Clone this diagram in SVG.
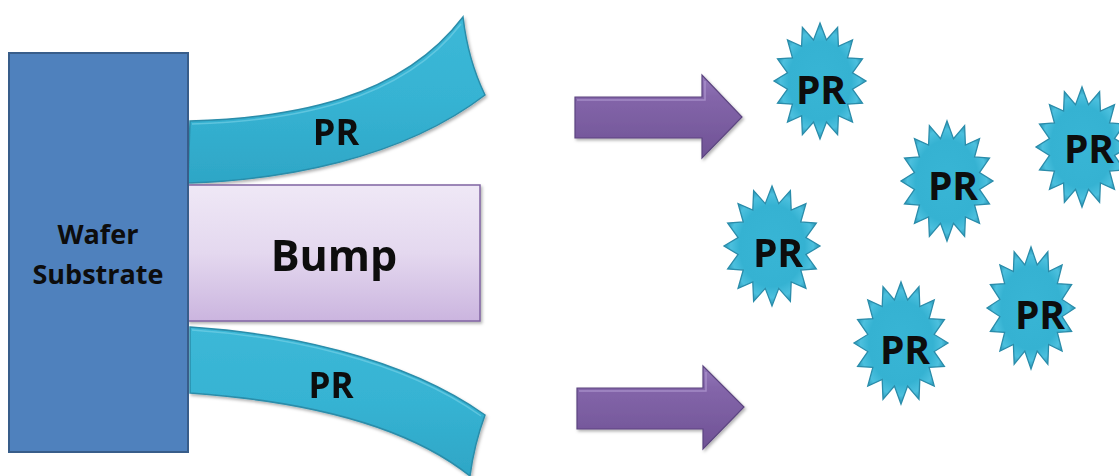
<svg xmlns="http://www.w3.org/2000/svg" xmlns:xlink="http://www.w3.org/1999/xlink" width="1119" height="476" viewBox="0 0 1119 476">
  <style>
    .lbl { font-family: "Open Sans", "Liberation Sans", sans-serif; font-weight: 700; fill: #0d0d0d; text-anchor: middle; }
    .wafer { fill: #4f81bd; stroke: #385d8a; stroke-width: 2; }
    .bump { fill: url(#bumpFill); stroke: #8064a2; stroke-width: 1.5; }
    .band { fill: url(#bandFill); stroke: #2a8daa; stroke-width: 1.5; }
    .band-hi { fill: none; stroke: #7fd6ea; stroke-width: 1.5; opacity: 0.55; }
    .arrow { fill: url(#arrowFill); stroke: #5c4580; stroke-width: 1.2; stroke-linejoin: miter; }
    .arrow-hi { fill: none; stroke: #b39bd3; stroke-width: 1.5; opacity: 0.7; }
    .star { fill: url(#starFill); stroke: #2a8caa; stroke-width: 1.3; vector-effect: non-scaling-stroke; stroke-linejoin: miter; }
  </style>
  <defs>
    <linearGradient id="bumpFill" x1="0" y1="0" x2="0" y2="1">
      <stop offset="0" stop-color="#efe8f6"/>
      <stop offset="0.5" stop-color="#e4d8ef"/>
      <stop offset="1" stop-color="#cbb5df"/>
    </linearGradient>
    <linearGradient id="bandFill" x1="0" y1="0" x2="0" y2="1">
      <stop offset="0" stop-color="#3cb8d7"/>
      <stop offset="0.5" stop-color="#36b3d3"/>
      <stop offset="1" stop-color="#2ea6c6"/>
    </linearGradient>
    <linearGradient id="arrowFill" x1="0" y1="0" x2="0" y2="1">
      <stop offset="0" stop-color="#9479bb"/>
      <stop offset="0.25" stop-color="#8466aa"/>
      <stop offset="1" stop-color="#6f5295"/>
    </linearGradient>
    <radialGradient id="starFill" cx="0.5" cy="0.5" r="0.5">
      <stop offset="0" stop-color="#38b5d5"/>
      <stop offset="0.68" stop-color="#35b2d2"/>
      <stop offset="0.86" stop-color="#4cc0de"/>
      <stop offset="1" stop-color="#2796b6"/>
    </radialGradient>
    <filter id="shadow" x="-10%" y="-10%" width="130%" height="130%">
      <feDropShadow dx="1.5" dy="2" stdDeviation="1.5" flood-color="#000" flood-opacity="0.3"/>
    </filter>
    <!-- 16-point star on a unit radius of 100, inner radius 72 -->
    <polygon id="star16" class="star" points="0,-100 14.05,-70.62 38.27,-92.39 40,-59.87 70.71,-70.71 59.87,-40 92.39,-38.27 70.62,-14.05 100,0 70.62,14.05 92.39,38.27 59.87,40 70.71,70.71 40,59.87 38.27,92.39 14.05,70.62 0,100 -14.05,70.62 -38.27,92.39 -40,59.87 -70.71,70.71 -59.87,40 -92.39,38.27 -70.62,14.05 -100,0 -70.62,-14.05 -92.39,-38.27 -59.87,-40 -70.71,-70.71 -40,-59.87 -38.27,-92.39 -14.05,-70.62"/>
  </defs>

  <rect width="1119" height="476" fill="#ffffff"/>

  <!-- upper photoresist layer, peeling away -->
  <g id="pr-top" filter="url(#shadow)">
    <path class="band" d="M190,121 C290,118 400,100 463,17 Q468,60 485,95 C400,160 280,180 188,183 Z"/>
    <path class="band-hi" d="M192,124 C290,121 400,103 461,24"/>
    <text class="lbl" x="336" y="145" font-size="36">PR</text>
  </g>

  <!-- lower photoresist layer, peeling away -->
  <g id="pr-bottom" filter="url(#shadow)">
    <path class="band" d="M190,327 C280,333 400,355 485,415 Q474,445 470,476 C400,420 290,400 190,393 Z"/>
    <path class="band-hi" d="M192,330 C280,336 400,358 481,416"/>
    <text class="lbl" x="331" y="398" font-size="35">PR</text>
  </g>

  <!-- bump -->
  <g id="bump" filter="url(#shadow)">
    <rect class="bump" x="188" y="185" width="292" height="136"/>
    <text class="lbl" x="334" y="271" font-size="43">Bump</text>
  </g>

  <!-- wafer substrate -->
  <g id="wafer">
    <rect class="wafer" x="9" y="53" width="179" height="399"/>
    <text class="lbl" x="98" y="244" font-size="27">Wafer</text>
    <text class="lbl" x="98" y="284" font-size="27">Substrate</text>
  </g>

  <!-- block arrows -->
  <g id="connectors" filter="url(#shadow)">
    <path class="arrow" d="M575,97 L702,97 L702,75 L742,117 L702,158 L702,138 L575,138 Z"/>
    <path class="arrow-hi" d="M577,100 L705,100 L705,81"/>
    <path class="arrow" d="M577,388 L703,388 L703,366 L744,407 L703,449 L703,429 L577,429 Z"/>
    <path class="arrow-hi" d="M579,391 L706,391 L706,372"/>
  </g>

  <!-- dissolved photoresist fragments -->
  <g id="frag-1">
    <use xlink:href="#star16" href="#star16" transform="translate(820,81) scale(0.46,0.58)"/>
    <text class="lbl" x="821" y="104" font-size="39">PR</text>
  </g>
  <g id="frag-2">
    <use xlink:href="#star16" href="#star16" transform="translate(947,181) scale(0.46,0.60)"/>
    <text class="lbl" x="953" y="200" font-size="39">PR</text>
  </g>
  <g id="frag-3">
    <use xlink:href="#star16" href="#star16" transform="translate(1082,147) scale(0.46,0.60)"/>
    <text class="lbl" x="1089" y="163" font-size="39">PR</text>
  </g>
  <g id="frag-4">
    <use xlink:href="#star16" href="#star16" transform="translate(772,246) scale(0.48,0.60)"/>
    <text class="lbl" x="778" y="267" font-size="39">PR</text>
  </g>
  <g id="frag-5">
    <use xlink:href="#star16" href="#star16" transform="translate(901,343) scale(0.47,0.61)"/>
    <text class="lbl" x="905" y="364" font-size="39">PR</text>
  </g>
  <g id="frag-6">
    <use xlink:href="#star16" href="#star16" transform="translate(1031,308) scale(0.44,0.61)"/>
    <text class="lbl" x="1040" y="329" font-size="39">PR</text>
  </g>
</svg>
